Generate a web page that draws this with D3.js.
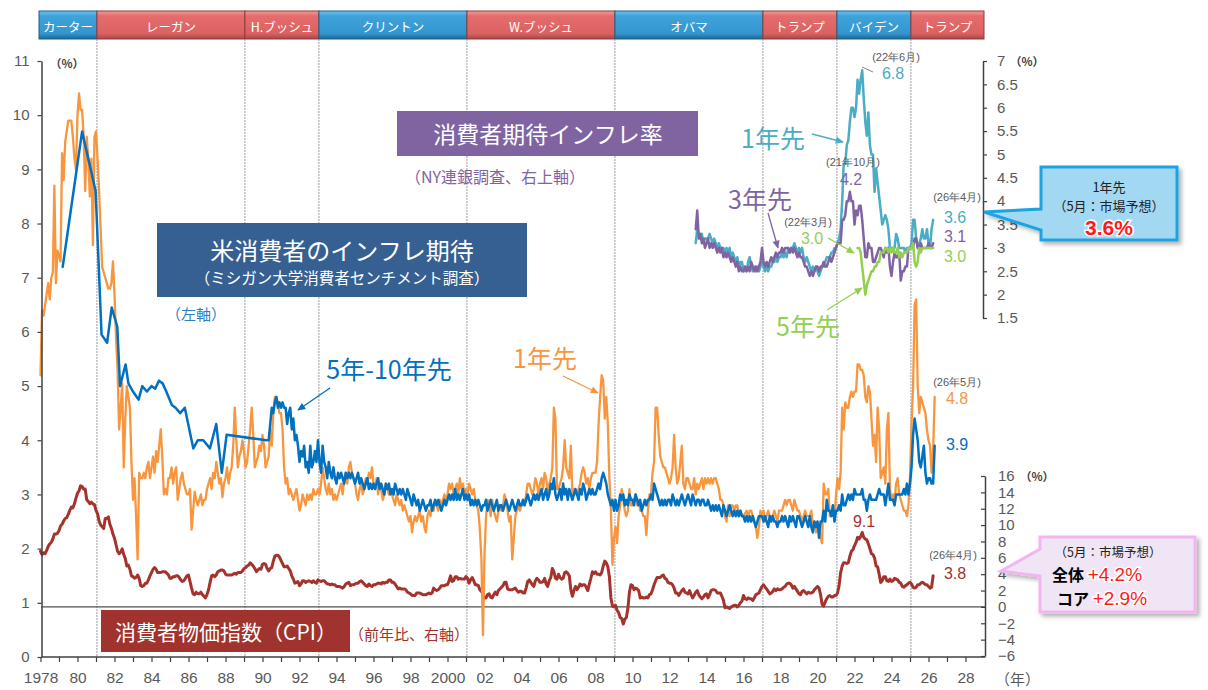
<!DOCTYPE html>
<html><head><meta charset="utf-8">
<script src="https://cdn.jsdelivr.net/npm/d3@7"></script>
<style>body{margin:0;background:#fff} svg{display:block}</style>
</head><body>
<script>
// ===== DATA =====
// US CPI YoY (%), monthly from Jan 1978 (right lower axis)
const cpiStart = 1978;
const cpi = [
6.8,6.4,6.6,6.5,6.9,7.4,7.7,7.9,8.3,8.9,8.9,9.0,
9.3,9.9,10.1,10.5,10.8,10.9,11.3,11.8,12.2,12.1,12.6,13.3,
13.9,14.2,14.8,14.7,14.4,14.4,13.1,12.9,12.6,12.8,12.6,12.5,
11.8,11.4,10.5,10.0,9.8,9.6,10.8,10.8,11.0,10.1,9.6,8.9,
8.4,7.6,6.8,6.5,6.7,7.1,6.4,5.9,5.0,5.1,4.6,3.8,
3.7,3.5,3.6,3.9,3.5,2.6,2.5,2.6,2.9,2.9,3.3,3.8,
4.2,4.6,4.8,4.6,4.2,4.2,4.2,4.3,4.3,4.3,4.1,3.9,
3.5,3.5,3.7,3.7,3.8,3.8,3.6,3.3,3.1,3.2,3.5,3.8,
3.9,3.1,2.3,1.6,1.5,1.8,1.6,1.6,1.8,1.5,1.3,1.1,
1.5,2.1,3.0,3.8,3.9,3.7,3.9,4.3,4.4,4.5,4.5,4.4,
4.0,3.9,3.9,3.9,3.9,4.0,4.1,4.0,4.2,4.2,4.2,4.4,
4.7,4.8,5.0,5.1,5.4,5.2,5.0,4.7,4.3,4.5,4.7,4.6,
5.2,5.3,5.2,4.7,4.4,4.7,4.8,5.6,6.2,6.3,6.3,6.1,
5.7,5.3,4.9,4.9,5.0,4.7,4.4,3.8,3.4,2.9,3.0,3.1,
2.6,2.8,3.2,3.2,3.0,3.1,3.2,3.1,3.0,3.2,3.0,2.9,
3.3,3.2,3.1,3.2,3.2,3.0,2.8,2.8,2.7,2.8,2.7,2.7,
2.5,2.5,2.5,2.4,2.3,2.5,2.8,2.9,3.0,2.6,2.7,2.7,
2.8,2.9,2.9,3.1,3.2,3.0,2.8,2.6,2.5,2.8,2.6,2.5,
2.7,2.7,2.8,2.9,2.9,2.8,3.0,2.9,3.0,3.0,3.3,3.3,
3.0,3.0,2.8,2.5,2.2,2.3,2.2,2.2,2.2,2.1,1.8,1.7,
1.6,1.4,1.4,1.4,1.7,1.7,1.7,1.6,1.5,1.5,1.5,1.6,
1.7,1.6,1.7,2.3,2.1,2.0,2.1,2.3,2.6,2.6,2.6,2.7,
2.7,3.2,3.8,3.1,3.2,3.7,3.7,3.4,3.5,3.4,3.4,3.4,
3.7,3.5,2.9,3.3,3.6,3.2,2.7,2.7,2.6,2.1,1.9,1.6,
1.1,1.1,1.5,1.6,1.2,1.1,1.5,1.8,1.5,2.0,2.2,2.4,
2.6,3.0,3.0,2.2,2.1,2.1,2.1,2.2,2.3,2.0,1.8,1.9,
1.9,1.7,1.7,2.3,3.1,3.3,3.0,2.7,2.5,3.2,3.5,3.3,
3.0,3.0,3.1,3.5,2.8,2.5,3.2,3.6,4.7,4.3,3.5,3.4,
4.0,3.6,3.4,3.5,4.2,4.3,4.1,3.8,2.1,1.3,2.0,2.5,
2.1,2.4,2.8,2.6,2.7,2.7,2.4,2.0,2.8,3.5,4.3,4.1,
4.3,4.0,4.0,3.9,4.2,5.0,5.6,5.4,4.9,3.7,1.1,0.1,
0.0,0.2,-0.4,-0.7,-1.3,-1.4,-2.1,-1.5,-1.3,-0.2,1.8,2.7,
2.6,2.1,2.3,2.2,2.0,1.1,1.2,1.1,1.1,1.2,1.1,1.5,
1.6,2.1,2.7,3.2,3.6,3.6,3.6,3.8,3.9,3.5,3.4,3.0,
2.9,2.9,2.7,2.3,1.7,1.7,1.4,1.7,2.0,2.2,1.8,1.7,
1.6,2.0,1.5,1.1,1.4,1.8,2.0,1.5,1.2,1.0,1.2,1.5,
1.6,1.1,1.5,2.0,2.1,2.1,2.0,1.7,1.7,1.7,1.3,0.8,
-0.1,0.0,-0.1,-0.2,0.0,0.1,0.2,0.2,0.0,0.2,0.5,0.7,
1.4,1.0,0.9,1.1,1.0,1.0,0.8,1.1,1.5,1.6,1.7,2.1,
2.5,2.7,2.4,2.2,1.9,1.6,1.7,1.9,2.2,2.0,2.2,2.1,
2.1,2.2,2.4,2.5,2.8,2.9,2.9,2.7,2.3,2.5,2.2,1.9,
1.6,1.5,1.9,2.0,1.8,1.6,1.8,1.7,1.7,1.8,2.1,2.3,
2.5,2.3,1.5,0.3,0.1,0.6,1.0,1.3,1.4,1.2,1.2,1.4,
1.4,1.7,2.6,4.2,5.0,5.4,5.4,5.3,5.4,6.2,6.8,7.0,
7.5,7.9,8.5,8.3,8.6,9.1,8.5,8.3,8.2,7.7,7.1,6.5,
6.4,6.0,5.0,4.9,4.0,3.0,3.2,3.7,3.7,3.2,3.1,3.4,
3.1,3.2,3.5,3.4,3.3,3.0,2.9,2.5,2.4,2.6,2.7,2.9,
3.0,2.8,2.4,2.3,2.4,2.7,2.7,2.9,3.0,2.9,2.7,2.7,
2.5,2.3,2.4,3.8
];

// Michigan 1-year-ahead expected inflation (%), monthly from Jan 1978 (left axis)
const mich1yStart = 1978;
const mich1y = [
5.2,6.4,6.3,6.5,6.7,6.9,6.6,7.0,7.1,8.7,6.9,7.5,
7.4,7.3,9.3,8.8,9.5,9.7,9.9,9.9,9.9,9.6,9.2,9.0,
10.0,10.4,10.1,10.1,9.6,8.6,9.6,9.2,8.5,9.2,7.6,9.6,
9.7,9.2,8.6,7.9,7.2,7.1,7.0,6.9,6.8,6.8,6.9,7.3,
6.7,5.9,5.3,4.2,4.6,5.05,3.5,4.4,5.0,4.8,4.6,3.6,
2.9,3.3,2.6,1.8,3.4,3.3,3.3,3.4,3.3,3.5,3.6,3.3,
3.5,3.7,3.4,3.8,3.6,3.9,4.2,3.7,3.0,3.1,3.0,3.3,
3.3,3.5,3.2,3.4,3.5,2.9,3.1,3.3,3.4,3.2,3.1,3.0,
3.0,3.1,2.35,2.7,3.05,2.9,2.8,2.9,3.0,2.8,2.9,2.9,
3.1,3.2,3.3,3.1,3.4,3.3,3.6,3.4,3.2,3.3,2.95,3.2,
3.3,3.5,3.2,3.4,3.5,3.9,4.6,4.0,3.5,3.7,3.8,4.0,
3.8,3.5,3.6,3.9,4.2,4.6,4.1,3.5,3.6,3.7,3.9,3.8,
4.1,3.9,3.5,3.6,3.7,4.2,3.9,4.5,4.8,4.8,4.7,4.5,
4.5,4.2,3.5,3.2,3.3,3.0,3.1,3.0,2.9,3.0,3.1,2.9,
2.7,2.8,3.0,2.9,2.8,3.0,2.9,3.0,2.9,3.1,3.0,3.0,
3.1,3.0,3.2,3.5,3.3,3.1,3.0,3.2,3.0,3.1,2.9,3.0,
2.9,3.0,3.1,3.2,3.0,3.3,3.4,3.2,3.5,3.6,3.4,3.3,
3.2,3.0,2.9,3.1,3.2,3.0,3.1,3.3,3.2,3.4,3.3,3.5,
3.2,3.1,3.3,3.0,3.2,3.1,2.9,3.0,3.2,3.1,3.0,3.1,
3.0,2.9,2.8,3.0,2.9,2.8,2.9,2.7,2.8,2.7,2.6,2.5,
2.6,2.3,2.5,2.6,2.5,2.6,2.7,2.5,2.6,2.4,2.3,2.6,
2.7,2.6,2.8,2.7,2.9,2.8,2.7,2.9,2.8,2.9,3.0,2.9,
3.0,3.2,3.1,3.2,3.0,3.1,3.2,3.0,3.3,3.1,3.2,3.0,
3.1,3.0,3.2,3.1,3.0,3.1,2.9,2.8,2.7,2.35,1.8,0.4,
1.9,2.6,2.9,2.8,2.6,2.9,2.7,2.6,2.5,2.7,2.8,2.7,
2.8,3.0,2.9,2.7,2.5,2.6,1.8,2.2,2.6,2.7,2.8,2.7,
2.8,2.9,2.8,3.0,3.2,3.2,3.1,3.0,3.1,3.3,3.2,3.0,
3.2,3.3,3.1,3.4,3.3,3.0,3.2,3.3,3.5,4.6,4.4,3.1,
3.1,3.2,3.3,3.5,4.0,3.5,3.4,3.3,3.9,3.0,3.1,3.0,
3.0,3.1,3.2,3.4,3.5,3.4,3.2,3.3,3.1,3.3,3.4,3.4,
3.4,3.6,4.3,4.8,5.2,5.1,4.4,4.8,4.3,3.3,2.7,1.7,
2.2,2.4,2.1,2.6,2.8,3.1,2.9,2.7,2.6,2.7,3.1,2.8,
2.8,2.9,3.0,2.8,2.9,2.7,2.7,2.6,2.6,2.25,2.7,3.0,
3.0,3.4,3.6,4.6,4.6,4.1,3.7,3.6,3.5,3.5,3.4,3.3,
3.2,3.3,3.5,4.1,3.5,3.2,3.3,3.6,3.9,3.2,3.1,3.3,
3.3,3.2,3.1,3.1,3.3,3.0,3.2,3.1,3.2,3.3,3.1,3.3,
3.2,3.3,3.2,3.3,3.2,3.3,3.3,3.2,3.1,2.9,2.9,2.8,
2.6,2.5,2.8,2.6,2.8,2.8,2.7,2.8,2.8,2.6,2.7,2.6,
2.6,2.65,2.7,2.6,2.7,2.7,2.6,2.5,2.4,2.2,2.4,2.7,
2.6,2.7,2.5,2.6,2.7,2.6,2.6,2.6,2.7,2.6,2.5,2.7,
2.7,2.7,2.8,2.9,2.8,2.9,2.9,2.8,2.7,2.9,2.8,2.7,
2.7,2.6,2.5,2.6,2.7,2.6,2.6,2.6,2.7,2.4,2.5,2.3,
2.5,2.4,2.2,2.1,3.2,3.0,3.0,3.1,2.6,2.6,2.8,2.5,
3.0,3.3,3.1,3.4,4.6,4.2,4.7,4.6,4.6,4.8,4.9,4.8,
4.9,4.9,5.4,5.4,5.3,5.3,5.2,4.8,4.7,5.0,4.9,4.4,
3.9,4.1,3.6,4.6,4.2,3.3,3.4,3.5,3.2,4.2,4.5,3.1,
2.9,3.0,2.9,3.2,3.3,3.0,2.9,2.8,2.7,2.7,2.6,2.8,
3.3,4.3,5.0,6.5,6.6,5.0,4.5,4.8,4.7,4.6,4.5,4.2,
4.0,3.9,3.4,3.8,4.8
];

// Michigan 5-10-year-ahead expected inflation (%), irregular early survey points (left axis)
const mich5yEarlyT = [1979.2,1980.25,1980.98,1981.3,1981.6,1981.85,1982.15,1982.3,1982.45,1982.6,1982.75,1983.0,1983.3,1983.5,1983.75,1984.0,1984.2,1984.4,1984.6,1984.8,1985.1,1985.3,1985.55,1985.8,1986.26,1986.5,1986.8,1987.16,1987.5,1987.8,1988.06,1990.2];
const mich5yEarlyV = [7.2,9.7,8.6,5.95,5.8,6.45,6.1,5.0,5.2,5.4,5.05,4.9,4.75,5.0,4.9,5.0,4.95,5.1,5.05,4.9,4.65,4.6,4.5,4.6,3.85,4.0,4.0,3.85,4.3,3.4,4.1,4.0];
// Michigan 5-10-year, monthly from May 1990
const mich5yStart = 1990 + 4/12;
const mich5y = [
4.0,4.3,4.6,4.5,4.7,4.8,4.6,4.7,
4.6,4.7,4.6,4.6,4.3,4.5,4.6,4.2,4.4,4.0,4.1,3.9,
3.6,3.8,3.7,3.9,3.5,3.6,3.4,3.9,3.5,3.6,3.8,3.6,
4.0,3.6,3.4,3.9,3.6,3.5,3.3,3.6,3.4,3.3,3.5,3.3,
3.2,3.4,3.3,3.4,3.3,3.2,3.4,3.3,3.4,3.3,3.4,3.3,
3.2,3.3,3.4,3.2,3.3,3.2,3.1,3.2,3.3,3.1,3.2,3.1,
3.2,3.1,3.2,3.3,3.1,3.2,3.1,3.0,3.2,3.1,3.2,3.0,
3.1,3.0,3.2,3.1,3.0,3.1,3.0,3.1,3.0,2.9,3.1,3.0,
2.9,2.8,3.0,2.9,2.8,2.9,2.7,2.8,2.9,2.8,2.7,2.8,
2.8,2.9,2.7,2.8,2.9,2.8,2.9,2.8,2.7,2.8,2.9,2.8,
2.9,3.0,2.9,3.0,2.9,3.1,2.9,3.0,2.9,3.0,3.1,2.9,
3.0,2.9,3.0,2.8,2.9,2.8,2.9,2.8,2.9,2.8,2.7,2.8,
2.8,2.9,2.7,2.8,2.9,2.8,2.7,2.8,2.9,2.7,2.8,2.8,
2.7,2.8,2.9,2.8,2.7,2.8,2.9,2.8,2.7,2.8,2.9,2.8,
2.8,2.9,2.8,2.9,3.0,2.9,2.8,2.9,3.0,2.9,3.0,2.9,
3.0,3.1,2.9,3.0,3.1,2.9,3.0,3.2,3.1,3.3,3.0,2.9,
3.0,3.1,2.9,3.2,3.0,3.1,2.9,3.1,3.0,2.9,3.0,3.1,
3.0,2.9,3.1,3.0,3.2,3.1,2.9,3.0,3.1,3.0,3.1,3.0,
3.0,3.1,3.2,3.1,3.3,3.4,3.3,3.2,3.0,2.9,2.8,2.9,
2.7,2.9,2.7,2.8,3.0,2.9,3.0,2.8,2.9,2.8,3.0,2.9,
2.9,2.8,3.0,2.9,2.8,2.9,2.7,2.8,2.9,2.8,2.9,2.9,
3.0,2.9,3.2,3.1,3.0,2.9,2.8,2.9,2.8,2.9,2.8,2.9,
2.9,2.8,3.0,2.9,2.8,2.9,2.8,2.9,3.0,2.9,2.8,2.9,
3.0,2.9,2.8,3.0,2.9,2.8,2.9,2.9,2.8,2.9,2.9,2.8,
2.8,2.9,2.8,2.7,2.8,2.7,2.8,2.7,2.8,2.7,2.6,2.8,
2.7,2.6,2.7,2.8,2.7,2.6,2.7,2.6,2.7,2.6,2.7,2.6,
2.6,2.5,2.6,2.5,2.6,2.5,2.6,2.5,2.4,2.5,2.6,2.6,
2.6,2.5,2.6,2.5,2.4,2.6,2.5,2.6,2.5,2.5,2.4,2.5,
2.5,2.6,2.5,2.6,2.5,2.4,2.6,2.5,2.6,2.5,2.4,2.6,
2.6,2.5,2.4,2.5,2.6,2.5,2.4,2.6,2.4,2.3,2.5,2.4,
2.5,2.2,2.5,2.5,2.7,2.5,2.9,2.7,2.7,2.6,2.8,2.5,
2.7,2.7,2.8,2.7,3.0,2.8,2.8,2.9,3.0,2.9,3.0,2.9,
3.1,3.0,3.0,3.0,3.0,3.1,2.9,2.9,2.7,2.9,3.0,2.9,
2.9,2.9,2.9,3.0,3.1,3.0,3.0,3.0,2.8,3.0,3.2,2.9,
2.9,2.9,2.8,3.0,3.0,3.0,3.0,3.0,3.1,3.0,3.2,3.0,
3.2,3.5,4.1,4.4,4.2,4.0,3.6,3.5,3.7,3.9,3.4,3.2,
3.3,3.3,3.2,3.2,3.9
];

// NY Fed Survey of Consumer Expectations (%), monthly from Jun 2013 (right upper axis)
const nyStart = 2013 + 5/12;
const ny1y = [
3.1,3.4,3.3,3.2,3.3,3.1,3.2,
3.2,3.2,3.3,3.2,3.1,3.2,3.1,3.0,3.1,3.0,3.0,3.0,
2.9,3.0,2.9,3.0,2.8,2.9,2.8,2.7,2.8,2.6,2.7,2.7,
2.5,2.6,2.5,2.7,2.8,2.6,2.5,2.6,2.5,2.6,2.5,2.6,
2.7,2.6,2.5,2.6,2.5,2.6,2.6,2.7,2.7,2.8,2.7,2.8,
2.8,2.9,2.8,2.9,2.8,3.0,2.9,3.0,3.0,3.1,3.0,2.9,
3.0,2.9,3.0,2.8,2.7,2.8,2.7,2.6,2.5,2.6,2.5,2.6,
2.5,2.4,2.5,2.6,2.6,2.7,2.8,2.8,2.8,2.9,2.9,3.0,
3.0,3.1,3.2,3.4,4.0,4.8,4.8,5.2,5.3,5.7,6.0,6.0,
5.8,6.0,6.6,6.3,6.6,6.8,6.2,5.7,5.4,5.9,5.2,5.0,
5.0,4.2,4.7,4.4,4.1,3.8,3.5,3.6,3.7,3.6,3.4,3.0,
3.0,3.0,3.0,3.3,3.2,3.0,3.0,3.0,3.0,2.9,3.0,3.0,
3.0,3.1,3.6,3.6,3.2,3.0,3.1,3.2,3.4,3.2,3.2,3.4,
3.1,3.0,3.4,3.6
];
const ny3y = [
3.4,3.8,3.2,3.3,3.1,3.2,3.0,
3.1,3.2,3.0,3.1,3.0,3.1,3.0,2.9,3.0,2.9,3.0,2.8,
2.9,2.8,2.9,2.8,2.7,2.8,2.7,2.6,2.7,2.5,2.6,2.5,
2.5,2.6,2.5,2.6,2.5,2.7,2.6,2.5,2.6,2.5,2.6,2.7,
3.0,2.7,2.6,2.7,2.6,2.7,2.8,2.7,2.8,2.9,2.8,2.9,
2.9,3.0,2.9,3.0,3.0,3.0,2.9,3.0,2.9,3.0,2.9,2.8,
2.9,2.8,2.8,2.7,2.6,2.6,2.5,2.4,2.5,2.4,2.5,2.6,
2.6,2.5,2.6,2.6,2.7,2.6,2.6,2.7,2.8,2.7,2.8,2.9,
3.0,3.1,3.1,3.1,3.6,3.6,3.7,4.0,4.0,4.2,4.0,4.0,
3.5,3.8,3.7,3.9,3.9,3.6,3.2,2.8,2.8,3.1,3.0,3.0,
2.7,2.7,2.8,2.9,3.0,3.0,2.9,2.8,3.0,2.9,3.0,2.6,
2.4,2.7,2.9,2.8,2.8,2.9,2.3,2.5,2.5,2.6,2.6,3.0,
3.0,3.0,3.0,3.2,3.2,3.0,3.0,3.1,3.0,3.0,3.0,3.0,
3.1,3.0,3.0,3.1
];
const ny5yStart = 2022 + 2/12;
const ny5y = [
3.0,3.0,2.9,2.6,2.3,2.0,2.2,2.3,2.4,2.5,
2.5,2.6,2.6,2.7,2.7,2.9,2.9,2.9,3.0,3.0,2.9,3.0,
2.9,3.0,2.9,2.9,3.0,2.8,2.9,2.8,2.9,2.9,2.9,3.0,
3.0,3.0,3.1,2.7,2.6,2.7,3.0,2.9,3.0,3.0,3.0,3.0,
3.0,3.0,3.0,3.0
];

// Presidents (top band)
const presNames = ["カーター","レーガン","H.ブッシュ","クリントン","W.ブッシュ","オバマ","トランプ","バイデン","トランプ"];
const presStart = [1977.05,1981.05,1989.05,1993.05,2001.05,2009.05,2017.05,2021.05,2025.05];
const presParty = ["D","R","R","D","R","D","R","D","R"];

// Axis ticks
const leftTicks = [0,1,2,3,4,5,6,7,8,9,10,11];
const nyTicks = [1.5,2,2.5,3,3.5,4,4.5,5,5.5,6,6.5,7];
const cpiTicks = [-6,-4,-2,0,2,4,6,8,10,12,14,16];
const yearTicks = d3.range(1978, 2029);

// ===== CHART =====
const W = 1208, H = 690;
const JP = "'Noto Sans CJK JP','Noto Sans',sans-serif";
const NUM = "'Liberation Sans',Arial,sans-serif";
const C = {orange:"#f7963f", blue:"#0070c0", cpi:"#a3332c", ny1:"#4bacc6", ny3:"#8064a2", ny5:"#92d050", axis:"#404040", lab:"#595959"};

const svg = d3.select("body").append("svg").attr("width", W).attr("height", H).style("background", "#fff");
svg.append("rect").attr("width", W).attr("height", H).attr("fill", "#fff");

const x = d3.scaleLinear().domain([1978, 2028]).range([40.5, 965.5]);
const yL = d3.scaleLinear().domain([0, 11]).range([657, 61]);
const yC = d3.scaleLinear().domain([-6, 16]).range([656, 476]);
const yN = d3.scaleLinear().domain([1.5, 7]).range([318, 61]);

const defs = svg.append("defs");
function grad(id, stops) {
  const g = defs.append("linearGradient").attr("id", id).attr("x1", 0).attr("y1", 0).attr("x2", 0).attr("y2", 1);
  stops.forEach(s => g.append("stop").attr("offset", s[0]).attr("stop-color", s[1]));
}
grad("gBlue", [[0,"#6cc4f0"],[0.18,"#3fa2d9"],[0.8,"#3596cf"],[1,"#1d6796"]]);
grad("gRed", [[0,"#f59a9a"],[0.18,"#e46c6c"],[0.8,"#dc6262"],[1,"#a94646"]]);
const f = defs.append("filter").attr("id", "shadow").attr("x", "-10%").attr("y", "-10%").attr("width", "130%").attr("height", "140%");
f.append("feDropShadow").attr("dx", 3).attr("dy", 3).attr("stdDeviation", 2).attr("flood-color", "#000").attr("flood-opacity", 0.3);
function marker(id, color) {
  defs.append("marker").attr("id", id).attr("viewBox", "0 0 10 10").attr("refX", 9).attr("refY", 5)
    .attr("markerWidth", 9).attr("markerHeight", 8).attr("markerUnits", "userSpaceOnUse").attr("orient", "auto")
    .append("path").attr("d", "M0,0.5 L10,5 L0,9.5 Z").attr("fill", color);
}
marker("mBlue", C.blue); marker("mOrange", C.orange); marker("mNy1", C.ny1); marker("mNy3", C.ny3); marker("mNy5", C.ny5);

// President band
const bandTop = 11, bandH = 28;
presNames.forEach((n, i) => {
  const x0 = Math.max(x(presStart[i]), 39);
  const x1 = i < presNames.length - 1 ? x(presStart[i + 1]) : 984;
  const blue = presParty[i] === "D";
  svg.append("rect").attr("x", x0).attr("y", bandTop).attr("width", x1 - x0).attr("height", bandH)
    .attr("fill", blue ? "url(#gBlue)" : "url(#gRed)").attr("stroke", blue ? "#1f5f87" : "#8e3b3b").attr("stroke-width", 1);
  svg.append("text").attr("x", (x0 + x1) / 2).attr("y", bandTop + bandH / 2 + 1).attr("text-anchor", "middle")
    .attr("dominant-baseline", "central").attr("fill", "#fff").attr("font-family", JP).attr("font-size", 12.5).text(n);
});
// Vertical administration lines
presStart.slice(1).forEach(t => {
  svg.append("line").attr("x1", x(t)).attr("x2", x(t)).attr("y1", bandTop + bandH).attr("y2", 657)
    .attr("stroke", "#9a9a9a").attr("stroke-width", 1).attr("stroke-dasharray", "2,1");
});

// Text helper
function txt(xp, yp, s, o = {}) {
  return svg.append("text").attr("x", xp).attr("y", yp).attr("text-anchor", o.anchor || "middle")
    .attr("dominant-baseline", "central").attr("font-family", o.family || JP).attr("font-size", o.size || 14)
    .attr("font-weight", o.weight || "normal").attr("fill", o.color || "#000").text(s);
}

// Title boxes
svg.append("rect").attr("x", 157).attr("y", 223).attr("width", 370).attr("height", 74).attr("fill", "#376092");
txt(342, 249, "米消費者のインフレ期待", {size: 24, color: "#fff"});
txt(342, 277, "（ミシガン大学消費者センチメント調査）", {size: 15.5, color: "#fff"});
svg.append("rect").attr("x", 397).attr("y", 111).attr("width", 301).attr("height", 45).attr("fill", "#8064a2");
txt(548, 133, "消費者期待インフレ率", {size: 23, color: "#fff"});
txt(405, 176, "（NY連銀調査、右上軸）", {size: 16, color: "#8064a2", anchor: "start"});
svg.append("rect").attr("x", 101).attr("y", 610).attr("width", 249).attr("height", 42).attr("fill", "#a0332d");
txt(226, 631, "消費者物価指数（CPI）", {size: 21, color: "#fff"});
txt(349, 633, "（前年比、右軸）", {size: 15, color: "#a0332d", anchor: "start"});
txt(166, 313, "（左軸）", {size: 15, color: "#2e7fbf", anchor: "start"});

// CPI zero line
svg.append("line").attr("x1", 41.5).attr("x2", 985).attr("y1", yC(0)).attr("y2", yC(0)).attr("stroke", "#505050").attr("stroke-width", 1.3);

// Series
const monthly = (start, arr) => arr.map((v, i) => [start + i / 12, v]);
function drawLine(pts, ys, color, w) {
  svg.append("path").datum(pts).attr("fill", "none").attr("stroke", color).attr("stroke-width", w)
    .attr("stroke-linejoin", "round").attr("stroke-linecap", "round")
    .attr("d", d3.line().x(d => x(d[0])).y(d => ys(d[1])));
}
drawLine(monthly(cpiStart, cpi), yC, C.cpi, 3);
drawLine(monthly(mich1yStart, mich1y), yL, C.orange, 2.3);
const blueEarly = mich5yEarlyT.map((t, i) => [t, mich5yEarlyV[i]]);
drawLine(blueEarly.concat(monthly(mich5yStart, mich5y)), yL, C.blue, 2.5);
drawLine(monthly(nyStart, ny1y), yN, C.ny1, 2.5);
drawLine(monthly(nyStart, ny3y), yN, C.ny3, 2.5);
drawLine(monthly(ny5yStart, ny5y), yN, C.ny5, 2.5);

// Axes
function styleAxis(g) {
  g.selectAll(".domain").attr("stroke", C.axis).attr("stroke-width", 1.5);
  g.selectAll(".tick line").attr("stroke", C.axis).attr("stroke-width", 1.2);
  g.selectAll(".tick text").attr("fill", C.lab).attr("font-family", NUM).attr("font-size", 15);
}
const gL = svg.append("g").attr("transform", "translate(41.5,0)")
  .call(d3.axisLeft(yL).tickValues(leftTicks).tickSize(4).tickSizeOuter(0).tickPadding(8).tickFormat(d3.format("d")));
styleAxis(gL);
const fmtYear = d => d % 2 ? "" : (d === 1978 || d === 2000 ? String(d) : String(d % 100).padStart(2, "0"));
const gB = svg.append("g").attr("transform", "translate(0,657)")
  .call(d3.axisBottom(x).tickValues(yearTicks).tickSize(5).tickSizeOuter(0).tickPadding(10).tickFormat(fmtYear));
styleAxis(gB);
gB.select(".domain").remove();
svg.append("line").attr("x1", 41.5).attr("x2", 985.5).attr("y1", 657).attr("y2", 657).attr("stroke", C.axis).attr("stroke-width", 1.5);
gB.selectAll(".tick text").attr("font-size", 15.5);

const gN = svg.append("g").attr("transform", "translate(983,0)")
  .call(d3.axisRight(yN).tickValues(nyTicks).tickSize(4).tickSizeOuter(0).tickPadding(10)
  .tickFormat(d => d % 1 === 0 ? String(d) : d.toFixed(1)));
styleAxis(gN);
const gC = svg.append("g").attr("transform", "translate(985,0)")
  .call(d3.axisRight(yC).tickValues(cpiTicks).tickSize(-4).tickSizeOuter(0).tickPadding(13).tickFormat(d3.format("d")));
styleAxis(gC);

// unit labels
txt(50, 63, "（%）", {size: 11.5, weight: "bold", color: C.axis, anchor: "start"});
txt(1010, 61, "（%）", {size: 11.5, weight: "bold", color: C.axis, anchor: "start"});
txt(1020, 476, "（%）", {size: 11.5, weight: "bold", color: C.axis, anchor: "start"});
txt(995, 678, "（年）", {size: 15, color: C.lab, anchor: "start"});

// Series labels & arrows
function arrow(x1, y1, x2, y2, color, m) {
  svg.append("line").attr("x1", x1).attr("y1", y1).attr("x2", x2).attr("y2", y2)
    .attr("stroke", color).attr("stroke-width", 1.3).attr("marker-end", `url(#${m})`);
}
txt(389, 368, "5年-10年先", {size: 25, color: C.blue});
arrow(330, 388, 298, 410, C.blue, "mBlue");
txt(545, 357, "1年先", {size: 25, color: C.orange});
arrow(563, 376, 598, 393, C.orange, "mOrange");
txt(773, 137, "1年先", {size: 25, color: C.ny1});
arrow(812, 134, 843, 142, C.ny1, "mNy1");
txt(760, 198, "3年先", {size: 25, color: C.ny3});
arrow(768, 213, 778, 248, C.ny3, "mNy3");
txt(808, 325, "5年先", {size: 25, color: C.ny5});
arrow(827, 310, 862, 288, C.ny5, "mNy5");

// value annotations
const small = {size: 11, color: C.lab, family: NUM};
txt(896, 57, "(22年6月)", small);
txt(893, 73, "6.8", {size: 16, color: C.ny1, family: NUM});
svg.append("line").attr("x1", 862).attr("y1", 67).attr("x2", 873).attr("y2", 72).attr("stroke", "#808080").attr("stroke-width", 1);
txt(853, 162, "(21年10月)", small);
txt(851, 179, "4.2", {size: 16, color: C.ny3, family: NUM});
txt(808, 222, "(22年3月)", small);
txt(812, 238, "3.0", {size: 16, color: C.ny5, family: NUM});
arrow(828, 238, 854, 253, C.ny5, "mNy5");
txt(957, 197, "(26年4月)", small);
txt(955, 217, "3.6", {size: 16, color: C.ny1, family: NUM});
txt(955, 236, "3.1", {size: 16, color: C.ny3, family: NUM});
txt(955, 256, "3.0", {size: 16, color: C.ny5, family: NUM});
txt(957, 382, "(26年5月)", small);
txt(957, 398, "4.8", {size: 16, color: C.orange, family: NUM});
txt(957, 444, "3.9", {size: 16, color: C.blue, family: NUM});
txt(864, 521, "9.1", {size: 16, color: C.cpi, family: NUM});
txt(953, 555, "(26年4月)", small);
txt(955, 573, "3.8", {size: 16, color: C.cpi, family: NUM});

// Callout 1 (NY Fed 1-year forecast)
svg.append("path").attr("d", "M1041,167 H1177 V240 H1041 V230 L984,212 L1041,209 Z")
  .attr("fill", "#a3d8f2").attr("stroke", "#1aa3e3").attr("stroke-width", 3).attr("filter", "url(#shadow)");
txt(1109, 186, "1年先", {size: 13, color: "#222"});
txt(1109, 205, "（5月：市場予想）", {size: 13, color: "#222"});
txt(1109, 227, "3.6%", {size: 21, color: "#ff1a1a", family: NUM, weight: "bold"})
  .attr("stroke", "#fff").attr("stroke-width", 3).attr("paint-order", "stroke");

// Callout 2 (CPI forecast)
svg.append("path").attr("d", "M1040,537 H1195 V612 H1040 V576 L1001,571 L1040,549 Z")
  .attr("fill", "#efe5f4").attr("stroke", "#f3b5f0").attr("stroke-width", 3).attr("filter", "url(#shadow)");
txt(1108, 551, "（5月：市場予想）", {size: 12.5, color: "#222"});
const t1 = svg.append("text").attr("x", 1052).attr("y", 574).attr("dominant-baseline", "central").attr("font-family", JP).attr("font-size", 16);
t1.append("tspan").attr("font-weight", "bold").attr("fill", "#000").text("全体 ");
t1.append("tspan").attr("fill", "#ff1a1a").attr("font-family", NUM).attr("font-size", 19).attr("stroke", "#fff").attr("stroke-width", 3).attr("paint-order", "stroke").text("+4.2%");
const t2 = svg.append("text").attr("x", 1057).attr("y", 598).attr("dominant-baseline", "central").attr("font-family", JP).attr("font-size", 16);
t2.append("tspan").attr("font-weight", "bold").attr("fill", "#000").text("コア ");
t2.append("tspan").attr("fill", "#ff1a1a").attr("font-family", NUM).attr("font-size", 19).attr("stroke", "#fff").attr("stroke-width", 3).attr("paint-order", "stroke").text("+2.9%");
</script>
</body></html>
